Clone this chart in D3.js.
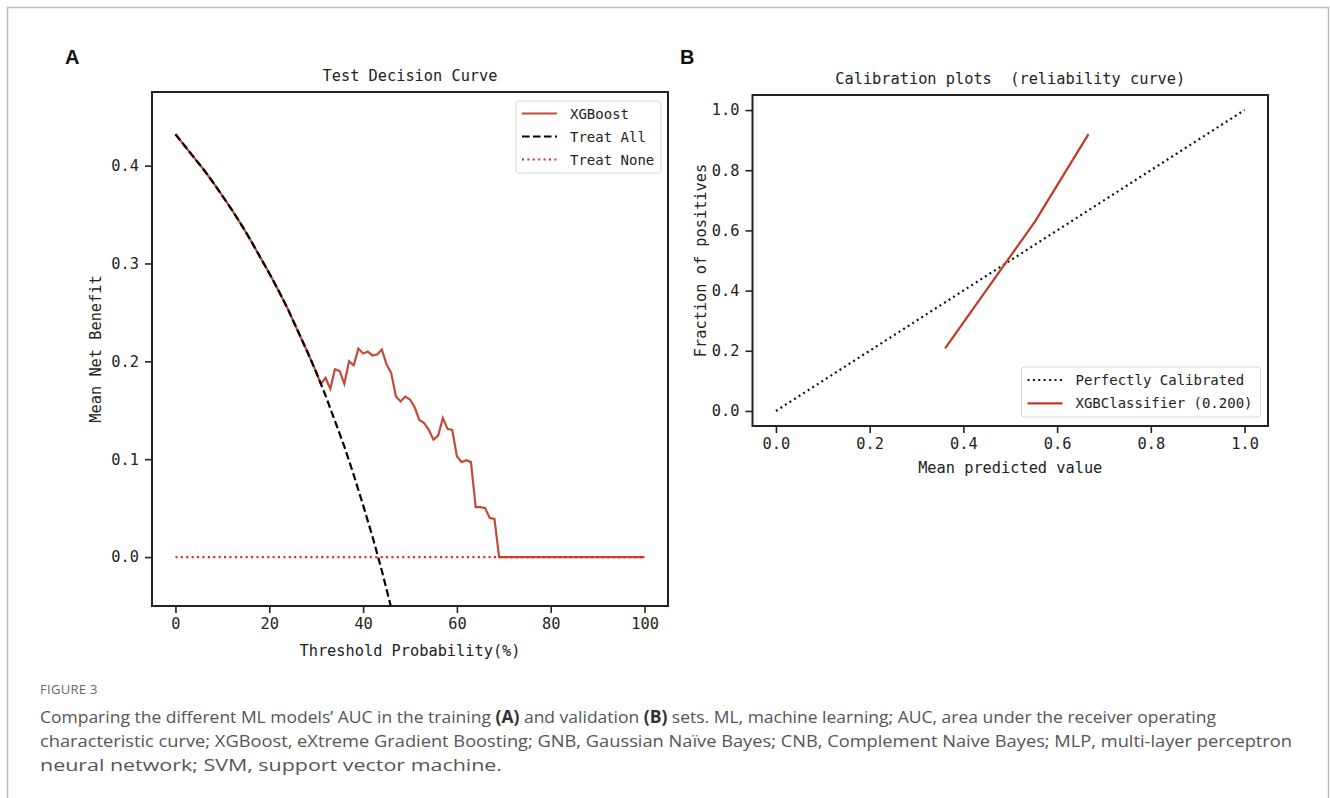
<!DOCTYPE html>
<html>
<head>
<meta charset="utf-8">
<script src="https://cdn.jsdelivr.net/npm/d3@7"></script>
<style>
  body { margin: 0; background: #fff; }
  svg { display: block; }
  .mono { font-family: "DejaVu Sans Mono", "Liberation Mono", monospace; fill: #222; white-space: pre; }
  .axis path, .axis line { stroke: #222; }
  .axis text { font-family: "DejaVu Sans Mono", "Liberation Mono", monospace; font-size: 15.3px; fill: #222; }
</style>
</head>
<body>
<svg id="fig" width="1330" height="798"></svg>
<script>
// ---- data ----
// panel A: decision curve, threshold in %
var treatAllX = [0, 2, 4, 6, 8, 10, 12, 14, 16, 18, 20, 22, 24, 26, 28, 30, 32, 34, 36, 38, 40, 42, 44, 46]
var treatAllY = [0.432, 0.420, 0.408, 0.396, 0.383, 0.369, 0.355, 0.340, 0.324, 0.307, 0.290, 0.272,
  0.253, 0.232, 0.211, 0.189, 0.165, 0.139, 0.113, 0.084, 0.053, 0.021, -0.014, -0.052]

var xgbX = [0, 2, 4, 6, 8, 10, 12, 14, 16, 18, 20, 22, 24, 26, 28, 30,
  31, 32, 33, 34, 35, 36, 37, 38, 39, 40, 41, 42, 43, 44, 45, 46, 47, 48, 49, 50,
  51, 52, 53, 54, 55, 56, 57, 58, 59, 60, 61, 62, 63, 64, 65, 66, 67, 68, 69, 100]
var xgbY = [0.432, 0.420, 0.408, 0.396, 0.383, 0.369, 0.355, 0.340, 0.324, 0.307, 0.290, 0.272,
  0.253, 0.232, 0.211, 0.189,
  0.177, 0.183, 0.172, 0.192, 0.190, 0.177, 0.200, 0.196, 0.213, 0.208, 0.210, 0.206, 0.207, 0.212,
  0.197, 0.188, 0.164, 0.159, 0.164, 0.161, 0.153, 0.140, 0.137, 0.130, 0.120, 0.124, 0.142, 0.131,
  0.130, 0.103, 0.097, 0.099, 0.097, 0.051, 0.051, 0.050, 0.040, 0.039, 0.000, 0.000]

var treatNoneX = [0, 100]
var treatNoneY = [0, 0]

var decisionXTicks = [0, 20, 40, 60, 80, 100]
var decisionYTicks = [0.0, 0.1, 0.2, 0.3, 0.4]

// panel B: calibration
var perfectX = [0, 1]
var perfectY = [0, 1]
var calibX = [0.361, 0.553, 0.667]
var calibY = [0.208, 0.630, 0.920]
var calibTicks = [0.0, 0.2, 0.4, 0.6, 0.8, 1.0]

var captionLines = [
  [["Comparing the different ML models\u2019 AUC in the training ", false], ["(A)", true], [" and validation ", false], ["(B)", true],
   [" sets. ML, machine learning; AUC, area under the receiver operating", false]],
  [["characteristic curve; XGBoost, eXtreme Gradient Boosting; GNB, Gaussian Na\u00efve Bayes; CNB, Complement Naive Bayes; MLP, multi-layer perceptron", false]],
  [["neural network; SVM, support vector machine.", false]]
]
var captionWidths = [1176, 1252, 462]

// colours
var XGB_COLOR = '#c24b3b'
var NONE_COLOR = '#e0231c'
var CALIB_COLOR = '#bd3b26'

var svg = d3.select('#fig')

// outer frame of the figure
svg.append('rect')
  .attr('x', 7.5).attr('y', 7.5).attr('width', 1321).attr('height', 900)
  .attr('fill', 'none').attr('stroke', '#bcbcbc').attr('stroke-width', 1.5)

function zip (xs, ys) {
  return xs.map(function (x, i) { return [x, ys[i]] })
}

function fmt1 (d) { return d3.format('.1f')(d) }

function drawPanel (opt) {
  var x = d3.scaleLinear().domain(opt.xDomain).range([opt.left, opt.right])
  var y = d3.scaleLinear().domain(opt.yDomain).range([opt.bottom, opt.top])
  var g = svg.append('g')

  var clipId = 'clip-' + opt.name
  svg.append('clipPath').attr('id', clipId)
    .append('rect')
    .attr('x', opt.left).attr('y', opt.top)
    .attr('width', opt.right - opt.left).attr('height', opt.bottom - opt.top)

  // axes
  g.append('g').attr('class', 'axis')
    .attr('transform', 'translate(0,' + opt.bottom + ')')
    .call(d3.axisBottom(x).tickValues(opt.xTicks).tickFormat(opt.xFormat).tickSize(7).tickSizeOuter(0).tickPadding(5))
  g.append('g').attr('class', 'axis')
    .attr('transform', 'translate(' + opt.left + ',0)')
    .call(d3.axisLeft(y).tickValues(opt.yTicks).tickFormat(opt.yFormat).tickSize(7).tickSizeOuter(0).tickPadding(6))
  g.selectAll('.axis path').remove()
  g.selectAll('.axis line').attr('stroke-width', 1.6)

  // lines
  var line = d3.line().x(function (d) { return x(d[0]) }).y(function (d) { return y(d[1]) })
  var plot = g.append('g').attr('clip-path', 'url(#' + clipId + ')')
  opt.series.forEach(function (s) {
    plot.append('path')
      .attr('d', line(s.data))
      .attr('fill', 'none')
      .attr('stroke', s.color)
      .attr('stroke-width', s.width)
      .attr('stroke-dasharray', s.dash || null)
  })

  // frame
  g.append('rect')
    .attr('x', opt.left).attr('y', opt.top)
    .attr('width', opt.right - opt.left).attr('height', opt.bottom - opt.top)
    .attr('fill', 'none').attr('stroke', '#222').attr('stroke-width', 2)

  // title and labels
  g.append('text').attr('class', 'mono')
    .attr('x', (opt.left + opt.right) / 2).attr('y', opt.top - 11)
    .attr('text-anchor', 'middle').style('font-size', '15.3px')
    .text(opt.title)
  g.append('text').attr('class', 'mono')
    .attr('x', (opt.left + opt.right) / 2).attr('y', opt.bottom + opt.xLabelDy)
    .attr('text-anchor', 'middle').style('font-size', '15.3px')
    .text(opt.xLabel)
  g.append('text').attr('class', 'mono')
    .attr('transform', 'translate(' + opt.yLabelX + ',' + (opt.top + opt.bottom) / 2 + ') rotate(-90)')
    .attr('text-anchor', 'middle').style('font-size', '15.3px')
    .text(opt.yLabel)

  // legend
  var lg = opt.legend
  g.append('rect')
    .attr('x', lg.x).attr('y', lg.y).attr('width', lg.w).attr('height', lg.h)
    .attr('rx', 3).attr('fill', '#fff').attr('fill-opacity', 0.8)
    .attr('stroke', '#d6d6d6').attr('stroke-width', 1)
  lg.items.forEach(function (it, i) {
    var ry = lg.y + lg.firstRow + i * lg.rowGap
    g.append('line')
      .attr('x1', lg.x + 6).attr('x2', lg.x + 41).attr('y1', ry).attr('y2', ry)
      .attr('stroke', it.color).attr('stroke-width', it.width)
      .attr('stroke-dasharray', it.dash || null)
    g.append('text').attr('class', 'mono')
      .attr('x', lg.x + 54).attr('y', ry + 5)
      .style('font-size', '14px')
      .text(it.label)
  })
}

// ---- panel A ----
drawPanel({
  name: 'a',
  left: 152, right: 668, top: 92, bottom: 606,
  xDomain: [-5, 105], yDomain: [-0.05, 0.4752],
  xTicks: decisionXTicks, yTicks: decisionYTicks,
  xFormat: d3.format('d'), yFormat: fmt1,
  title: 'Test Decision Curve',
  xLabel: 'Threshold Probability(%)', xLabelDy: 50,
  yLabel: 'Mean Net Benefit', yLabelX: 101,
  series: [
    { data: zip(xgbX, xgbY), color: XGB_COLOR, width: 2.2 },
    { data: zip(treatAllX, treatAllY), color: '#000', width: 2.2, dash: '7.5,3.5' },
    { data: zip(treatNoneX, treatNoneY), color: NONE_COLOR, width: 2.2, dash: '2,3.4' }
  ],
  legend: {
    x: 516, y: 101, w: 145, h: 72, firstRow: 12.5, rowGap: 23,
    items: [
      { label: 'XGBoost', color: XGB_COLOR, width: 2.2 },
      { label: 'Treat All', color: '#000', width: 2.2, dash: '7.5,3.5' },
      { label: 'Treat None', color: NONE_COLOR, width: 2.2, dash: '2,3.4' }
    ]
  }
})

// ---- panel B ----
drawPanel({
  name: 'b',
  left: 752.5, right: 1268, top: 95, bottom: 426,
  xDomain: [-0.05, 1.05], yDomain: [-0.05, 1.05],
  xTicks: calibTicks, yTicks: calibTicks,
  xFormat: fmt1, yFormat: fmt1,
  title: 'Calibration plots  (reliability curve)',
  xLabel: 'Mean predicted value', xLabelDy: 47,
  yLabel: 'Fraction of positives', yLabelX: 706,
  series: [
    { data: zip(perfectX, perfectY), color: '#111', width: 2.2, dash: '2,3.4' },
    { data: zip(calibX, calibY), color: CALIB_COLOR, width: 2.2 }
  ],
  legend: {
    x: 1021.5, y: 367, w: 239, h: 50, firstRow: 13, rowGap: 23.3,
    items: [
      { label: 'Perfectly Calibrated', color: '#111', width: 2.2, dash: '2,3.4' },
      { label: 'XGBClassifier (0.200)', color: CALIB_COLOR, width: 2.2 }
    ]
  }
})

// panel letters
svg.append('text').attr('x', 65).attr('y', 64)
  .style('font-family', '"Liberation Sans", Arial, sans-serif').style('font-weight', 'bold')
  .style('font-size', '20px').attr('fill', '#111').text('A')
svg.append('text').attr('x', 680).attr('y', 64)
  .style('font-family', '"Liberation Sans", Arial, sans-serif').style('font-weight', 'bold')
  .style('font-size', '20px').attr('fill', '#111').text('B')

// caption
svg.append('text').attr('x', 40).attr('y', 694)
  .style('font-family', '"Open Sans", "Noto Sans", sans-serif')
  .style('font-size', '13px').style('letter-spacing', '0.3px').attr('fill', '#666')
  .text('FIGURE 3')

captionLines.forEach(function (parts, i) {
  var t = svg.append('text')
    .attr('x', 40).attr('y', 723 + i * 24)
    .attr('textLength', captionWidths[i]).attr('lengthAdjust', 'spacingAndGlyphs')
    .style('font-family', '"Open Sans", "Noto Sans", sans-serif')
    .style('font-size', '17px').attr('fill', '#555')
  parts.forEach(function (p) {
    t.append('tspan')
      .style('font-weight', p[1] ? 'bold' : 'normal')
      .attr('fill', p[1] ? '#333' : '#555')
      .text(p[0])
  })
})
</script>
</body>
</html>
